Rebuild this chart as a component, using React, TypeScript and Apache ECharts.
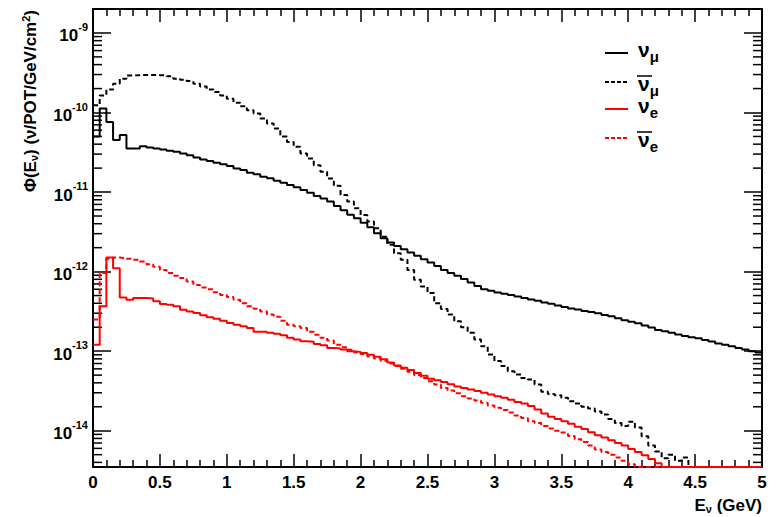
import React, { useEffect, useRef } from "react";
import * as echarts from "echarts";

// Histogram binning (GeV) and plot ranges
const E_MIN = 0;
const E_MAX = 5;
const BIN_WIDTH = 0.05;
const Y_MIN = 3.5e-15;
const Y_MAX = 2e-9;

// Axis ticks
const X_TICK_STEP = 0.5;
const Y_DECADES = [-14, -13, -12, -11, -10, -9];

// Flux per 0.05 GeV bin, nu/POT/GeV/cm^2
const numuFlux = [
  5.0e-11, 1.12e-10, 7.6e-11, 4.5e-11, 5.2e-11, 3.52e-11, 3.52e-11, 3.77e-11, 3.63e-11, 3.52e-11,
  3.43e-11, 3.3e-11, 3.2e-11, 3.05e-11, 2.91e-11, 2.72e-11, 2.57e-11, 2.45e-11, 2.33e-11, 2.24e-11,
  2.12e-11, 1.98e-11, 1.89e-11, 1.75e-11, 1.67e-11, 1.56e-11, 1.49e-11, 1.39e-11, 1.31e-11, 1.23e-11,
  1.15e-11, 1.06e-11, 9.8e-12, 8.9e-12, 8.3e-12, 7.6e-12, 6.7e-12, 5.9e-12, 5.2e-12, 4.68e-12,
  4.12e-12, 3.6e-12, 3.03e-12, 2.63e-12, 2.32e-12, 2.1e-12, 1.91e-12, 1.74e-12, 1.58e-12, 1.43e-12,
  1.3e-12, 1.18e-12, 1.05e-12, 9.6e-13, 8.9e-13, 8.05e-13, 7.3e-13, 6.6e-13, 6.0e-13, 5.75e-13,
  5.47e-13, 5.27e-13, 5.07e-13, 4.88e-13, 4.65e-13, 4.45e-13, 4.3e-13, 4.1e-13, 3.95e-13, 3.75e-13,
  3.6e-13, 3.45e-13, 3.35e-13, 3.2e-13, 3.1e-13, 3.0e-13, 2.85e-13, 2.75e-13, 2.6e-13, 2.45e-13,
  2.35e-13, 2.25e-13, 2.1e-13, 1.98e-13, 1.85e-13, 1.78e-13, 1.7e-13, 1.62e-13, 1.55e-13, 1.5e-13,
  1.45e-13, 1.38e-13, 1.32e-13, 1.25e-13, 1.2e-13, 1.15e-13, 1.1e-13, 1.05e-13, 1.0e-13, 9.6e-14,
];

const numubarFlux = [
  1.23e-10, 1.64e-10, 1.94e-10, 2.3e-10, 2.66e-10, 2.92e-10, 2.95e-10, 2.96e-10, 2.96e-10, 2.95e-10,
  2.93e-10, 2.85e-10, 2.66e-10, 2.58e-10, 2.48e-10, 2.3e-10, 2.13e-10, 1.94e-10, 1.81e-10, 1.64e-10,
  1.49e-10, 1.33e-10, 1.2e-10, 1.07e-10, 9.7e-11, 8.4e-11, 7.3e-11, 6.3e-11, 5.0e-11, 4.27e-11,
  3.7e-11, 3.05e-11, 2.64e-11, 2.18e-11, 1.8e-11, 1.48e-11, 1.2e-11, 9.2e-12, 7.6e-12, 6.25e-12,
  5.15e-12, 4.25e-12, 3.5e-12, 2.75e-12, 2.17e-12, 1.7e-12, 1.41e-12, 1.05e-12, 7.9e-13, 6.5e-13,
  5.4e-13, 4.0e-13, 3.4e-13, 2.88e-13, 2.37e-13, 2.0e-13, 1.7e-13, 1.4e-13, 1.15e-13, 9.1e-14,
  7.5e-14, 6.5e-14, 5.6e-14, 5.1e-14, 4.6e-14, 4.4e-14, 3.8e-14, 3.1e-14, 2.9e-14, 2.8e-14,
  2.6e-14, 2.35e-14, 2.2e-14, 2.0e-14, 1.9e-14, 1.75e-14, 1.6e-14, 1.4e-14, 1.25e-14, 1.15e-14,
  1.3e-14, 1.1e-14, 8.5e-15, 6.5e-15, 5.5e-15, 4.5e-15, 5.0e-15, 4.2e-15, 4.6e-15, 0,
  0, 0, 0, 0, 0, 0, 0, 0, 0, 0,
];

const nueFlux = [
  1.2e-13, 3.66e-13, 1.5e-12, 1.1e-12, 4.73e-13, 4.43e-13, 4.65e-13, 4.65e-13, 4.6e-13, 4.23e-13,
  3.92e-13, 3.84e-13, 3.66e-13, 3.32e-13, 3.16e-13, 3.02e-13, 2.82e-13, 2.66e-13, 2.56e-13, 2.42e-13,
  2.26e-13, 2.15e-13, 2.05e-13, 1.96e-13, 1.75e-13, 1.75e-13, 1.7e-13, 1.65e-13, 1.58e-13, 1.47e-13,
  1.4e-13, 1.33e-13, 1.31e-13, 1.23e-13, 1.19e-13, 1.1e-13, 1.08e-13, 1.05e-13, 1.0e-13, 9.8e-14,
  9.5e-14, 9.0e-14, 8.5e-14, 7.9e-14, 7.2e-14, 6.6e-14, 6.2e-14, 5.8e-14, 5.3e-14, 4.9e-14,
  4.5e-14, 4.3e-14, 4.1e-14, 3.85e-14, 3.6e-14, 3.45e-14, 3.3e-14, 3.15e-14, 3.0e-14, 2.85e-14,
  2.72e-14, 2.6e-14, 2.45e-14, 2.3e-14, 2.2e-14, 2.05e-14, 1.85e-14, 1.65e-14, 1.5e-14, 1.4e-14,
  1.32e-14, 1.22e-14, 1.12e-14, 1.05e-14, 9.6e-15, 8.8e-15, 8.2e-15, 7.6e-15, 7.0e-15, 6.5e-15,
  5.9e-15, 5.4e-15, 4.9e-15, 4.4e-15, 3.9e-15, 0, 0, 0, 0, 0,
  0, 0, 0, 0, 0, 0, 0, 0, 0, 0,
];

const nuebarFlux = [
  2.5e-13, 9.6e-13, 1.45e-12, 1.5e-12, 1.48e-12, 1.45e-12, 1.41e-12, 1.34e-12, 1.24e-12, 1.15e-12,
  1.05e-12, 9.6e-13, 8.9e-13, 8.3e-13, 7.5e-13, 6.8e-13, 6.3e-13, 6.0e-13, 5.5e-13, 5.1e-13,
  4.8e-13, 4.43e-13, 4.0e-13, 3.66e-13, 3.42e-13, 3.16e-13, 2.88e-13, 2.71e-13, 2.42e-13, 2.15e-13,
  2.05e-13, 1.96e-13, 1.75e-13, 1.61e-13, 1.47e-13, 1.36e-13, 1.2e-13, 1.12e-13, 1.04e-13, 9.7e-14,
  9.2e-14, 8.6e-14, 8.1e-14, 7.6e-14, 7.0e-14, 6.5e-14, 6.0e-14, 5.5e-14, 5.0e-14, 4.6e-14,
  4.2e-14, 3.8e-14, 3.45e-14, 3.2e-14, 2.95e-14, 2.72e-14, 2.55e-14, 2.4e-14, 2.25e-14, 2.08e-14,
  1.95e-14, 1.82e-14, 1.7e-14, 1.55e-14, 1.45e-14, 1.32e-14, 1.25e-14, 1.15e-14, 1.07e-14, 1.0e-14,
  9.5e-15, 8.6e-15, 7.8e-15, 7.2e-15, 6.5e-15, 5.8e-15, 5.4e-15, 5.0e-15, 4.6e-15, 4.2e-15,
  3.8e-15, 0, 0, 0, 0, 0, 0, 0, 0, 0,
  0, 0, 0, 0, 0, 0, 0, 0, 0, 0,
];

const FONT = "'Liberation Sans', Arial, Helvetica, sans-serif";
const BLACK = "#000000";
const RED = "#ff0000";
const DASH = [5, 3];

// Step outline for a histogram: one point per lower bin edge plus the upper edge.
// Empty bins sit on the bottom of the frame, as on a log scale.
function histogramSteps(values: number[]) {
  const pts = values.map((v, i) => [E_MIN + i * BIN_WIDTH, v > 0 ? v : Y_MIN]);
  const last = values[values.length - 1];
  pts.push([E_MAX, last > 0 ? last : Y_MIN]);
  return pts;
}

// Minor ticks of the log axis at 2..9 x 10^n
function logMinorTicks() {
  const out: number[][] = [];
  for (let e = -15; e <= -9; e++) {
    for (let k = 2; k <= 9; k++) {
      const v = k * Math.pow(10, e);
      if (v > Y_MIN && v < Y_MAX) out.push([E_MIN, v]);
    }
  }
  return out;
}

const labelStyle = {
  color: BLACK,
  fontFamily: FONT,
  fontWeight: "bold" as const,
  fontSize: 17,
};

export default function App() {
  const ref = useRef<HTMLDivElement>(null);

  useEffect(() => {
    if (!ref.current) return;
    const chart = echarts.init(ref.current, undefined, { renderer: "svg" });

    const lineSeries = (name: string, data: number[], color: string, dashed: boolean) => ({
      name,
      type: "line",
      step: "end",
      data: histogramSteps(data),
      showSymbol: false,
      symbol: "none",
      clip: true,
      lineStyle: { color, width: 2, type: dashed ? DASH : "solid" },
      silent: true,
      z: 3,
    });

    const legendEntries = [
      { color: BLACK, dashed: false, sub: "μ", bar: false, y: 53 },
      { color: BLACK, dashed: true, sub: "μ", bar: true, y: 82 },
      { color: RED, dashed: false, sub: "e", bar: false, y: 109 },
      { color: RED, dashed: true, sub: "e", bar: true, y: 138 },
    ];

    const legendGraphics: any[] = [];
    legendEntries.forEach((en) => {
      legendGraphics.push({
        type: "line",
        shape: { x1: 605, y1: en.y, x2: 628, y2: en.y },
        style: { stroke: en.color, lineWidth: 2, lineDash: en.dashed ? [4, 2] : null },
      });
      const ty = en.bar ? en.y + 3 : en.y - 2;
      legendGraphics.push({
        type: "text",
        x: 638,
        y: ty,
        style: {
          text: `{n|ν}{s|${en.sub}}`,
          verticalAlign: "middle",
          rich: {
            n: { fontFamily: FONT, fontWeight: "bold", fontSize: 21, fill: BLACK, verticalAlign: "top" },
            s: { fontFamily: FONT, fontWeight: "bold", fontSize: 15, fill: BLACK, verticalAlign: "bottom", padding: [10, 0, 0, 0] },
          },
        },
      });
      if (en.bar) {
        legendGraphics.push({
          type: "line",
          shape: { x1: 637, y1: en.y - 6, x2: 652, y2: en.y - 6 },
          style: { stroke: BLACK, lineWidth: 1.5 },
        });
      }
    });

    chart.setOption({
      animation: false,
      backgroundColor: "#ffffff",
      grid: { left: 93, right: 15, top: 9, bottom: 50, containLabel: false },
      xAxis: [
        {
          type: "value",
          min: E_MIN,
          max: E_MAX,
          interval: X_TICK_STEP,
          position: "bottom",
          axisLine: { show: true, onZero: false, lineStyle: { color: BLACK, width: 2 } },
          axisTick: { show: true, inside: true, length: 13, lineStyle: { color: BLACK, width: 1.5 } },
          minorTick: { show: true, splitNumber: 5, length: 7, lineStyle: { color: BLACK, width: 1.5 } },
          splitLine: { show: false },
          axisLabel: { ...labelStyle, margin: 7, formatter: (v: number) => `${v}` },
        },
        {
          type: "value",
          min: E_MIN,
          max: E_MAX,
          interval: X_TICK_STEP,
          position: "top",
          axisLine: { show: true, onZero: false, lineStyle: { color: BLACK, width: 2 } },
          axisTick: { show: true, inside: true, length: 13, lineStyle: { color: BLACK, width: 1.5 } },
          minorTick: { show: true, splitNumber: 5, length: 7, lineStyle: { color: BLACK, width: 1.5 } },
          splitLine: { show: false },
          axisLabel: { show: false },
        },
      ],
      yAxis: [
        {
          type: "log",
          logBase: 10,
          min: Y_MIN,
          max: Y_MAX,
          position: "left",
          axisLine: { show: true, onZero: false, lineStyle: { color: BLACK, width: 2 } },
          axisTick: { show: true, inside: true, length: 18, lineStyle: { color: BLACK, width: 1.5 } },
          splitLine: { show: false },
          axisLabel: {
            margin: 5,
            showMinLabel: false,
            showMaxLabel: false,
            formatter: (v: number) => {
              const e = Math.round(Math.log10(v));
              if (!Y_DECADES.includes(e) || Math.abs(Math.log10(v) - e) > 1e-6) return "";
              return `{b|10}{s|${e}}`;
            },
            rich: {
              b: { ...labelStyle, fontSize: 17, verticalAlign: "bottom", padding: [6, 0, 0, 0] },
              s: { ...labelStyle, fontSize: 11, verticalAlign: "top" },
            },
          },
        },
        {
          type: "log",
          logBase: 10,
          min: Y_MIN,
          max: Y_MAX,
          position: "right",
          axisLine: { show: true, onZero: false, lineStyle: { color: BLACK, width: 2 } },
          axisTick: { show: true, inside: true, length: 18, lineStyle: { color: BLACK, width: 1.5 } },
          splitLine: { show: false },
          axisLabel: { show: false },
        },
      ],
      series: [
        {
          type: "custom",
          name: "minorTicks",
          xAxisIndex: 0,
          yAxisIndex: 0,
          data: logMinorTicks(),
          silent: true,
          clip: false,
          z: 2,
          renderItem: (params: any, api: any) => {
            const v = api.value(1);
            const pl = api.coord([E_MIN, v]);
            const pr = api.coord([E_MAX, v]);
            const st = { stroke: BLACK, lineWidth: 1.5 };
            return {
              type: "group",
              children: [
                { type: "line", shape: { x1: pl[0], y1: pl[1], x2: pl[0] + 9, y2: pl[1] }, style: st },
                { type: "line", shape: { x1: pr[0] - 9, y1: pr[1], x2: pr[0], y2: pr[1] }, style: st },
              ],
            };
          },
        },
        lineSeries("νμ", numuFlux, BLACK, false),
        lineSeries("anti-νμ", numubarFlux, BLACK, true),
        lineSeries("νe", nueFlux, RED, false),
        lineSeries("anti-νe", nuebarFlux, RED, true),
      ],
      graphic: [
        {
          type: "text",
          x: 30,
          y: 10,
          rotation: Math.PI / 2,
          style: {
            text: "{t|Φ(E}{d|ν}{t|) (ν/POT/GeV/cm}{u|2}{t|)}",
            align: "right",
            verticalAlign: "middle",
            rich: {
              t: { fontFamily: FONT, fontWeight: "bold", fontSize: 17, fill: BLACK, verticalAlign: "middle" },
              d: { fontFamily: FONT, fontWeight: "bold", fontSize: 11, fill: BLACK, verticalAlign: "bottom", padding: [8, 0, 0, 0] },
              u: { fontFamily: FONT, fontWeight: "bold", fontSize: 11, fill: BLACK, verticalAlign: "top" },
            },
          },
        },
        {
          type: "text",
          x: 762,
          y: 505,
          style: {
            text: "{t|E}{d|ν}{t| (GeV)}",
            align: "right",
            verticalAlign: "middle",
            rich: {
              t: { fontFamily: FONT, fontWeight: "bold", fontSize: 17, fill: BLACK, verticalAlign: "middle" },
              d: { fontFamily: FONT, fontWeight: "bold", fontSize: 11, fill: BLACK, verticalAlign: "bottom", padding: [8, 0, 0, 0] },
            },
          },
        },
        ...legendGraphics,
      ],
    });

    return () => chart.dispose();
  }, []);

  return (
    <div
      ref={ref}
      style={{ position: "fixed", left: 0, top: 0, width: 777, height: 517, background: "#ffffff" }}
    />
  );
}
